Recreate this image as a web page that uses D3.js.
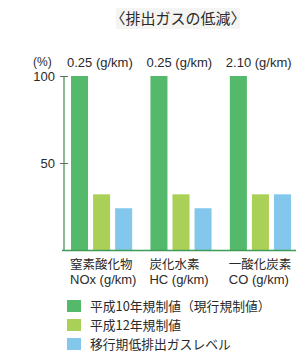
<!DOCTYPE html>
<html>
<head>
<meta charset="utf-8">
<script src="https://cdn.jsdelivr.net/npm/d3@7"></script>
<style>
  body { margin: 0; background: #fff; }
  svg { display: block; font-family: "Noto Sans CJK JP", "Noto Sans", sans-serif; }
</style>
</head>
<body>
<div></div>
<script>
const categories = ["NOx", "HC", "CO"];
const catLine1 = ["窒素酸化物", "炭化水素", "一酸化炭素"];
const catLine2 = ["NOx (g/km)", "HC (g/km)", "CO (g/km)"];
const topLabels = ["0.25 (g/km)", "0.25 (g/km)", "2.10 (g/km)"];
const seriesNames = ["平成10年規制値（現行規制値）", "平成12年規制値", "移行期低排出ガスレベル"];
const h10Values = [100, 100, 100];
const h12Values = [32, 32, 32];
const lowValues = [24, 24, 32];
const yTicks = [50, 100];

const w = 296;
const h = 358;
const colors = ["#55b96b", "#abd058", "#84c7ec"];

const svg = d3.select("div").append("svg").attr("width", w).attr("height", h);

const data = categories.map((c, i) => ({
  cat: c,
  vals: [h10Values[i], h12Values[i], lowValues[i]]
}));

const x0 = d3.scaleBand().domain(categories).range([71, 291]).paddingInner(0.23).paddingOuter(0);
const x1 = d3.scaleBand().domain([0, 1, 2]).range([0, x0.bandwidth()]).paddingInner(0.227);
const y = d3.scaleLinear().domain([0, 100]).range([250, 76]);

// title
svg.append("rect")
  .attr("x", 116).attr("y", 8).attr("width", 124).attr("height", 21)
  .attr("fill", "#f4f4f2");
svg.append("text")
  .attr("x", 178).attr("y", 23.5)
  .attr("text-anchor", "middle")
  .attr("font-size", 15)
  .attr("fill", "#2a2a2a")
  .text("〈排出ガスの低減〉");

// bars
const groups = svg.selectAll("g.grp")
  .data(data)
  .enter()
  .append("g")
  .attr("class", "grp")
  .attr("transform", (d) => "translate(" + x0(d.cat) + ",0)");

groups.selectAll("rect")
  .data((d) => d.vals)
  .enter()
  .append("rect")
  .attr("x", (d, i) => x1(i))
  .attr("y", (d) => y(d))
  .attr("width", x1.bandwidth())
  .attr("height", (d) => y(0) - y(d))
  .attr("fill", (d, i) => colors[i]);

// axes
const yAxis = d3.axisLeft(y).tickValues(yTicks).tickSize(8).tickPadding(6);
const ag = svg.append("g").attr("transform", "translate(68,0)").call(yAxis);
ag.select(".domain").remove();
ag.selectAll(".tick line").attr("stroke", "#666");
ag.selectAll(".tick text")
  .attr("x", -13)
  .attr("font-size", 13)
  .attr("fill", "#2a2a2a")
  .attr("font-family", "Liberation Sans, Arial, sans-serif");

svg.append("line")
  .attr("x1", 64).attr("x2", 64)
  .attr("y1", y(100)).attr("y2", y(0))
  .attr("stroke", "#3f8a50").attr("stroke-width", 1.2);
svg.append("line")
  .attr("x1", 62).attr("x2", w)
  .attr("y1", y(0) + 0.5).attr("y2", y(0) + 0.5)
  .attr("stroke", "#3f9a55").attr("stroke-width", 1.5);

svg.append("text")
  .attr("x", 33).attr("y", 66)
  .attr("font-size", 12)
  .attr("fill", "#2a2a2a")
  .attr("font-family", "Liberation Sans, Arial, sans-serif")
  .text("(%)");

// labels over groups
svg.selectAll("text.top")
  .data(topLabels)
  .enter()
  .append("text")
  .attr("class", "top")
  .attr("x", (d, i) => x0(categories[i]) - 4)
  .attr("y", 67)
  .attr("font-size", 13)
  .attr("fill", "#2a2a2a")
  .attr("font-family", "Liberation Sans, Arial, sans-serif")
  .text((d) => d);

// category labels
svg.selectAll("text.cat1")
  .data(catLine1)
  .enter()
  .append("text")
  .attr("class", "cat1")
  .attr("x", (d, i) => x0(categories[i]) - 1)
  .attr("y", 269)
  .attr("font-size", 12.5)
  .attr("fill", "#2a2a2a")
  .text((d) => d);

svg.selectAll("text.cat2")
  .data(catLine2)
  .enter()
  .append("text")
  .attr("class", "cat2")
  .attr("x", (d, i) => x0(categories[i]) - 1)
  .attr("y", 284)
  .attr("font-size", 13)
  .attr("fill", "#2a2a2a")
  .attr("font-family", "Liberation Sans, Arial, sans-serif")
  .text((d) => d);

// legend
const legend = svg.append("g").attr("id", "legend");
const legY = [306, 325, 344];
seriesNames.forEach((s, i) => {
  legend.append("rect")
    .attr("x", 67).attr("y", legY[i] - 6)
    .attr("width", 14).attr("height", 12)
    .attr("fill", colors[i]);
  legend.append("text")
    .attr("x", 90).attr("y", legY[i] + 4.5)
    .attr("font-size", 12.8)
    .attr("fill", "#2a2a2a")
    .text(s);
});
</script>
</body>
</html>
